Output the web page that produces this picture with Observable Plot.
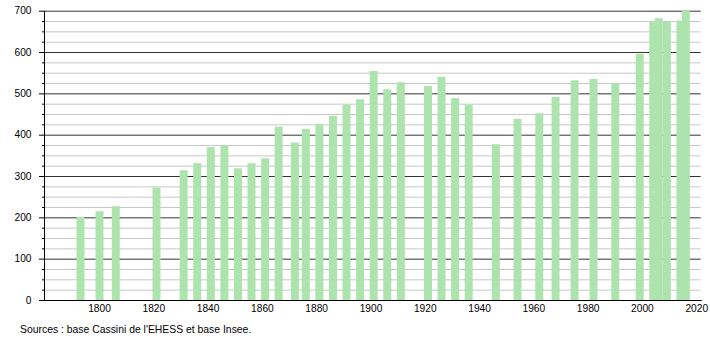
<!DOCTYPE html>
<html>
<head>
<meta charset="utf-8">
<script src="https://cdn.jsdelivr.net/npm/d3@7"></script>
<script src="https://cdn.jsdelivr.net/npm/@observablehq/plot@0.6"></script>
<style>
  html, body { margin: 0; padding: 0; background: #fff; }
  #chart svg { display: block; }
  #caption { font: 10.4px "Liberation Sans", Arial, sans-serif; color: #000; padding-left: 20px; margin-top: 6px; line-height: 12px; }
</style>
</head>
<body>
<div id="chart"></div>
<div id="caption">Sources : base Cassini de l'EHESS et base Insee.</div>
<script>
const years = [1793, 1800, 1806, 1821, 1831, 1836, 1841, 1846, 1851, 1856, 1861, 1866, 1872, 1876, 1881, 1886, 1891, 1896, 1901, 1906, 1911, 1921, 1926, 1931, 1936, 1946, 1954, 1962, 1968, 1975, 1982, 1990, 1999, 2004, 2006, 2009, 2014, 2016];
const population = [201, 215, 227, 272, 314, 331, 370, 373, 319, 331, 343, 419, 381, 414, 425, 445, 473, 486, 554, 510, 527, 518, 540, 489, 473, 377, 438, 452, 491, 532, 535, 525, 595, 674, 682, 674, 676, 701];
const xTicks = [1800, 1820, 1840, 1860, 1880, 1900, 1920, 1940, 1960, 1980, 2000, 2020];
const yMajor = [0, 100, 200, 300, 400, 500, 600, 700];
const yMinor = d3.range(25, 700, 25).filter(v => v % 100 !== 0);
const xDomain = [1779.74, 2021.65];
const yDomain = [0, 700];

const data = years.map((year, i) => ({year, pop: population[i]}));

const chart = Plot.plot({
  width: 710,
  height: 318,
  marginLeft: 44,
  marginRight: 9.3,
  marginTop: 10.7,
  marginBottom: 18,
  style: {fontFamily: "'Liberation Sans', Arial, sans-serif", fontSize: "10.2px", color: "#000", background: "#fff"},
  x: {domain: xDomain, label: null},
  y: {domain: yDomain, label: null},
  marks: [
    Plot.ruleY(yMinor, {stroke: "#c8c8c8", strokeWidth: 1}),
    Plot.ruleY(yMajor, {stroke: "#333", strokeWidth: 1}),
    Plot.ruleX(data, {x: "year", y1: 0, y2: "pop", stroke: "#ade3ad", strokeWidth: 8}),
    Plot.axisY({ticks: yMajor, tickSize: 5, tickPadding: 8, tickFormat: d => String(d), stroke: "#000", fill: "#000", label: null}),
    Plot.axisY({ticks: yMinor, tickSize: 2, tickFormat: null, text: null, stroke: "#000", label: null}),
    Plot.axisX({ticks: xTicks, tickSize: 0, tickPadding: 4, tickFormat: d => String(d), fill: "#000", label: null}),
    Plot.frame({anchor: "left", stroke: "#000"}),
    Plot.frame({anchor: "bottom", stroke: "#000"})
  ]
});
document.getElementById("chart").appendChild(chart);
</script>
</body>
</html>
